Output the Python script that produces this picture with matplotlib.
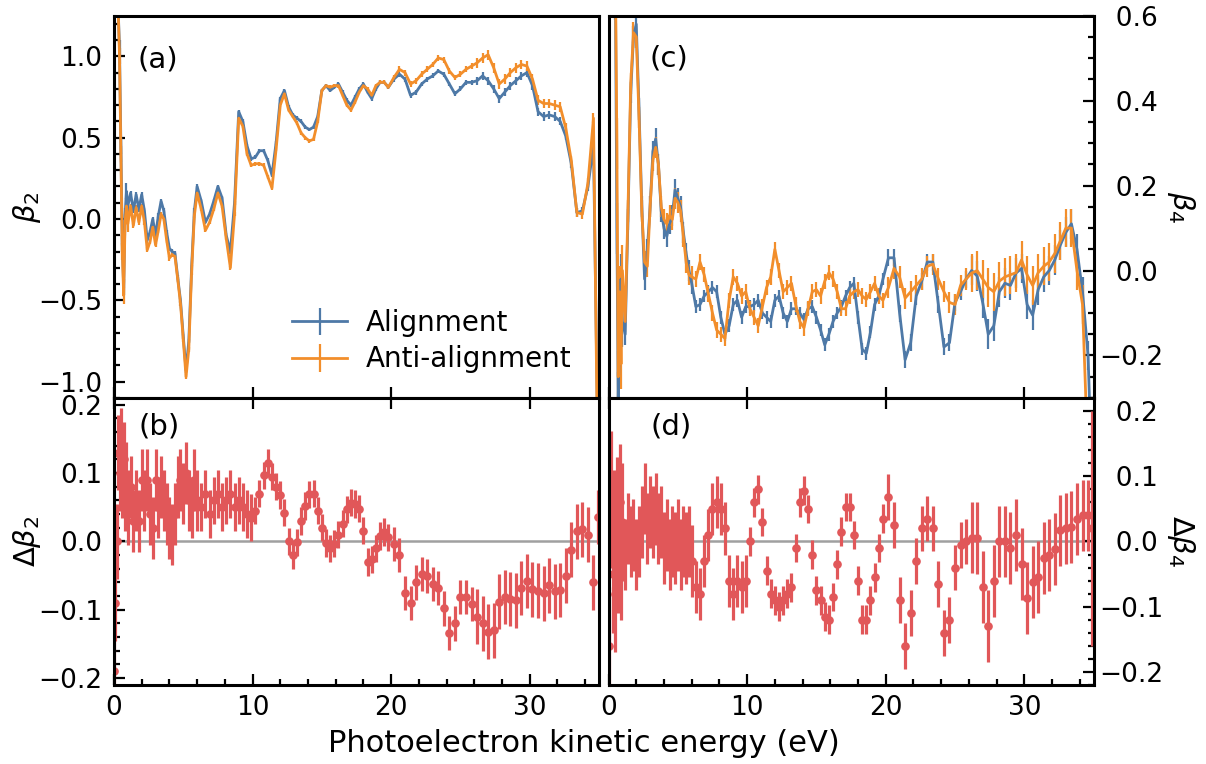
import matplotlib
matplotlib.use("Agg")
import matplotlib.pyplot as plt
from matplotlib.ticker import MultipleLocator, FuncFormatter

# Photoelectron kinetic energy grid (eV), shared by all four panels
energy = [0.0, 0.1, 0.2, 0.3, 0.4, 0.5, 0.6, 0.7, 0.8, 0.9, 1.0,
          1.2, 1.4, 1.6, 1.8, 2.0, 2.2, 2.4, 2.6, 2.8, 3.0,
          3.2, 3.4, 3.6, 3.8, 4.0, 4.2, 4.4, 4.6, 4.8, 5.0,
          5.2, 5.4, 5.6, 5.8, 6.0,
          6.3, 6.6, 6.9, 7.2, 7.5, 7.8, 8.1, 8.4, 8.7, 9.0,
          9.3, 9.6, 9.9, 10.2, 10.5, 10.8, 11.1, 11.4, 11.7, 12.0,
          12.3, 12.6, 12.9, 13.2, 13.5, 13.8, 14.1, 14.4, 14.7, 15.0,
          15.3, 15.6, 15.9, 16.2, 16.5, 16.8, 17.1, 17.4, 17.7, 18.0,
          18.3, 18.6, 18.9, 19.2, 19.5, 19.8,
          20.2, 20.6, 21.0, 21.4, 21.8, 22.2, 22.6, 23.0, 23.4, 23.8,
          24.2, 24.6, 25.0, 25.4, 25.8, 26.2, 26.6, 27.0, 27.4, 27.8,
          28.2, 28.6, 29.0, 29.4, 29.8, 30.2, 30.6, 31.0, 31.4, 31.8,
          32.2, 32.6, 33.0, 33.4, 33.8, 34.2, 34.6, 34.9]

# (a) beta_2
beta2_align = [1.6, 1.5, 1.4, 1.3, 1.05, 0.45, -0.15, -0.42, 0.02, 0.17, 0.08,
               0.16, 0.05, 0.15, 0.06, 0.15, 0.05, -0.13, -0.08, 0.0, -0.10,
               0.02, 0.11, 0.05, -0.08, -0.18, -0.20, -0.21, -0.36, -0.50, -0.72,
               -0.93, -0.75, -0.30, 0.05, 0.20,
               0.11, -0.02, 0.03, 0.11, 0.20, 0.13, -0.10, -0.20, 0.10, 0.66,
               0.60, 0.45, 0.37, 0.38, 0.42, 0.42, 0.36, 0.27, 0.47, 0.74,
               0.79, 0.69, 0.64, 0.62, 0.60, 0.565, 0.55, 0.565, 0.63, 0.79,
               0.82, 0.79, 0.81, 0.83, 0.78, 0.73, 0.70, 0.75, 0.80, 0.83,
               0.78, 0.74, 0.80, 0.84, 0.84, 0.81,
               0.86, 0.89, 0.86, 0.76, 0.78, 0.83, 0.86, 0.88, 0.91, 0.89,
               0.83, 0.77, 0.80, 0.84, 0.84, 0.85, 0.88, 0.85, 0.80, 0.74,
               0.78, 0.82, 0.85, 0.88, 0.90, 0.82, 0.66, 0.63, 0.64, 0.63,
               0.60, 0.51, 0.34, 0.04, 0.05, 0.20, 0.45, -1.3]
beta2_anti = [1.6, 1.5, 1.4, 1.3, 1.0, 0.4, -0.2, -0.47, -0.02, 0.08, -0.03,
              0.08, -0.04, 0.07, -0.02, 0.08, -0.02, -0.19, -0.14, -0.05, -0.16,
              -0.07, 0.03, 0.0, -0.13, -0.24, -0.22, -0.23, -0.37, -0.52, -0.74,
              -0.97, -0.80, -0.33, 0.02, 0.16,
              0.06, -0.07, -0.02, 0.06, 0.16, 0.08, -0.12, -0.30, 0.03, 0.62,
              0.57, 0.40, 0.33, 0.34, 0.34, 0.33, 0.26, 0.19, 0.43, 0.70,
              0.77, 0.67, 0.63, 0.59, 0.53, 0.50, 0.48, 0.49, 0.60, 0.79,
              0.82, 0.81, 0.82, 0.82, 0.76, 0.70, 0.67, 0.72, 0.78, 0.82,
              0.80, 0.76, 0.82, 0.84, 0.84, 0.81,
              0.87, 0.92, 0.90, 0.83, 0.85, 0.89, 0.92, 0.95, 0.99, 0.98,
              0.91, 0.87, 0.89, 0.92, 0.94, 0.96, 0.99, 1.01, 0.93, 0.83,
              0.86, 0.90, 0.93, 0.95, 0.94, 0.86, 0.73, 0.71, 0.71, 0.70,
              0.69, 0.56, 0.36, 0.04, 0.03, 0.22, 0.62, -1.5]
err2_align = [0.05] * 11 + [0.015] * 25 + [0.012] * 46 + [0.015] * 15 + [0.025] * 23
err2_anti = [0.05] * 11 + [0.015] * 25 + [0.012] * 46 + [0.018] * 15 + [0.03] * 23

# (c) beta_4
beta4_align = [0.9, 0.85, 0.8, 0.75, 0.72, 0.65, 0.1, -0.3, -0.12, -0.02, -0.12,
               -0.15, 0.12, 0.42, 0.55, 0.58, 0.38, 0.15, -0.02, 0.05, 0.15,
               0.28, 0.31, 0.25, 0.14, 0.10, 0.08, 0.11, 0.13, 0.19, 0.17,
               0.15, 0.09, 0.04, 0.0, -0.03,
               -0.085, -0.08, -0.06, -0.05, -0.04, -0.05, -0.11, -0.15, -0.13, -0.08,
               -0.07, -0.11, -0.085, -0.085, -0.08, -0.07, -0.10, -0.11, -0.12, -0.07,
               -0.06, -0.10, -0.12, -0.09, -0.09, -0.10, -0.115, -0.09, -0.085, -0.11,
               -0.14, -0.175, -0.15, -0.12, -0.10, -0.085, -0.06, -0.04, -0.03, -0.11,
               -0.185, -0.195, -0.145, -0.08, -0.06, -0.02,
               0.03, 0.03, -0.10, -0.21, -0.17, -0.06, -0.025, 0.02, 0.02, -0.08,
               -0.18, -0.17, -0.075, -0.05, -0.02, 0.0, -0.013, -0.076, -0.15, -0.13,
               -0.05, -0.03, -0.035, -0.006, 0.005, -0.08, -0.105, -0.045, -0.015, 0.0,
               0.025, 0.06, 0.09, 0.11, 0.05, -0.05, -0.2, -0.5]
beta4_anti = [0.9, 0.85, 0.8, 0.75, 0.72, 0.68, 0.3, -0.25, -0.05, -0.22, 0.0,
              -0.12, 0.14, 0.44, 0.56, 0.55, 0.36, 0.14, 0.02, 0.01, 0.15,
              0.26, 0.29, 0.25, 0.15, 0.12, 0.11, 0.13, 0.12, 0.17, 0.16,
              0.14, 0.08, 0.02, -0.01, -0.015,
              -0.02, 0.02, -0.01, -0.055, -0.10, -0.14, -0.15, -0.16, -0.07, -0.015,
              -0.03, -0.06, -0.05, -0.09, -0.11, -0.13, -0.085, -0.04, -0.015, 0.05,
              0.0, -0.05, -0.04, -0.03, -0.08, -0.12, -0.135, -0.09, -0.05, -0.045,
              -0.06, -0.025, -0.005, -0.02, -0.05, -0.09, -0.09, -0.06, -0.05, -0.045,
              -0.06, -0.068, -0.05, -0.03, -0.06, -0.07,
              -0.04, 0.005, -0.015, -0.065, -0.05, -0.035, -0.02, 0.01, 0.015, -0.02,
              -0.05, -0.075, -0.08, -0.035, -0.02, -0.006, 0.0, -0.02, -0.04, -0.05,
              -0.025, -0.015, -0.01, -0.005, 0.025, -0.01, -0.035, -0.005, 0.01, 0.02,
              0.04, 0.07, 0.10, 0.10, 0.0, -0.08, -0.45, -0.9]
err4_align = [0.06] * 11 + [0.025] * 25 + [0.015] * 46 + [0.02] * 15 + [0.035] * 23
err4_anti = [0.06] * 11 + [0.025] * 25 + [0.018] * 46 + [0.025] * 15 + [0.045] * 23

# (b) and (d) differences, anti-alignment minus alignment
dbeta2 = [-0.19, -0.09, 0.0, 0.13, 0.10, 0.14, 0.09, 0.12, 0.07, 0.09, 0.05,
          0.08, 0.03, 0.06, 0.03, 0.09, 0.06, 0.09, 0.04, 0.02, 0.09,
          0.05, 0.08, 0.06, 0.04, 0.02, 0.01, 0.04, 0.08, 0.09, 0.07,
          0.10, 0.06, 0.05, 0.09, 0.06,
          0.05, 0.07, 0.04, 0.06, 0.07, 0.05, 0.06, 0.07, 0.05, 0.06,
          0.05, 0.04, 0.035, 0.045, 0.07, 0.097, 0.115, 0.095, 0.08, 0.068,
          0.042, 0.0, -0.02, -0.001, 0.03, 0.052, 0.069, 0.07, 0.045, 0.02,
          -0.002, -0.01, -0.003, 0.01, 0.026, 0.047, 0.057, 0.055, 0.048, 0.016,
          -0.03, -0.026, -0.01, 0.008, 0.014, 0.006,
          -0.004, -0.02, -0.075, -0.09, -0.06, -0.047, -0.05, -0.062, -0.068, -0.098,
          -0.134, -0.12, -0.081, -0.081, -0.092, -0.11, -0.12, -0.132, -0.13, -0.088,
          -0.081, -0.084, -0.086, -0.068, -0.058, -0.07, -0.072, -0.076, -0.064, -0.073,
          -0.071, -0.05, -0.012, 0.015, 0.018, 0.01, -0.06, 0.036]
dbeta4 = [-0.16, 0.05, 0.08, -0.05, 0.02, -0.08, 0.04, -0.02, 0.06, -0.03, 0.03,
          -0.02, 0.02, 0.0, 0.01, -0.02, 0.0, 0.03, 0.066, 0.02, 0.045,
          0.03, 0.05, 0.02, 0.03, -0.01, 0.01, -0.02, 0.0, -0.01, 0.01,
          -0.02, 0.0, -0.01, 0.0, -0.03,
          -0.07, -0.08, -0.03, 0.01, 0.05, 0.06, 0.05, 0.02, -0.06, -0.08,
          -0.06, -0.07, -0.06, 0.0, 0.06, 0.08, 0.03, -0.045, -0.08, -0.09,
          -0.10, -0.09, -0.08, -0.07, -0.01, 0.06, 0.078, 0.05, -0.02, -0.075,
          -0.09, -0.115, -0.12, -0.085, -0.035, 0.015, 0.053, 0.053, 0.01, -0.06,
          -0.12, -0.12, -0.09, -0.055, -0.01, 0.035,
          0.068, 0.025, -0.09, -0.16, -0.11, -0.03, 0.02, 0.035, 0.02, -0.065,
          -0.14, -0.12, -0.04, -0.005, 0.0, 0.006, 0.005, -0.07, -0.13, -0.06,
          0.0, 0.0, -0.01, 0.01, -0.035, -0.087, -0.062, -0.055, -0.025, -0.021,
          -0.012, 0.017, 0.02, 0.022, 0.035, 0.04, 0.04, 0.02]
err_d2 = [0.055] * 11 + [0.045] * 25 + [0.035] * 13 + [0.02] * 33 + [0.025] * 15 + [0.04] * 23
err_d4 = [0.09] * 11 + [0.055] * 25 + [0.04] * 13 + [0.022] * 33 + [0.035] * 15 + [0.055] * 22 + [0.18]

blue = "#4e79a7"
orange = "#f28e2b"
red = "#e15759"


def right_label(v, pos):
    # figure space in front of positive numbers so they line up with the minus sign
    s = "{0:.1f}".format(v)
    if s.startswith("-") and s != "-0.0":
        return "\u2212" + s[1:]
    return "\u2007" + s.lstrip("-")


def style_axis(ax, side, top_row):
    for sp in ax.spines.values():
        sp.set_linewidth(2.2)
    ax.tick_params(which="both", direction="in", labelsize=19, width=1.6)
    ax.tick_params(which="major", length=8)
    ax.tick_params(which="minor", length=4.5)
    ax.tick_params(axis="y", which="both", left=(side == "left"), right=(side == "right"),
                   labelleft=(side == "left"), labelright=(side == "right"),
                   pad=(8.5 if side == "left" else 4))
    ax.tick_params(axis="x", which="both", top=False, bottom=True,
                   labelbottom=not top_row, pad=7)
    if top_row:
        ax.tick_params(axis="x", which="minor", bottom=False)
    else:
        ax.tick_params(axis="x", which="major", top=True)
    ax.xaxis.set_major_locator(MultipleLocator(10))
    ax.xaxis.set_minor_locator(MultipleLocator(2))
    ax.set_xlim(0, 35)


fig = plt.figure(figsize=(12.06, 7.64), dpi=100)
ax_a = fig.add_axes([0.0945, 0.4791, 0.4022, 0.5004])
ax_b = fig.add_axes([0.0945, 0.1034, 0.4022, 0.3757])
ax_c = fig.add_axes([0.5046, 0.4791, 0.4022, 0.5004])
ax_d = fig.add_axes([0.5046, 0.1034, 0.4022, 0.3757])

# Plot data
# =========
ax_a.errorbar(energy, beta2_align, yerr=err2_align, color=blue, lw=2.0,
              elinewidth=1.6, capsize=0, label="Alignment")
ax_a.errorbar(energy, beta2_anti, yerr=err2_anti, color=orange, lw=2.0,
              elinewidth=1.6, capsize=0, label="Anti-alignment")
ax_c.errorbar(energy, beta4_align, yerr=err4_align, color=blue, lw=2.0,
              elinewidth=1.6, capsize=0)
ax_c.errorbar(energy, beta4_anti, yerr=err4_anti, color=orange, lw=2.0,
              elinewidth=1.6, capsize=0)

for ax, d, e in [(ax_b, dbeta2, err_d2), (ax_d, dbeta4, err_d4)]:
    ax.axhline(0, color="#a0a0a0", lw=1.8, zorder=0)
    ax.errorbar(energy, d, yerr=e, fmt="o", color=red, ms=5.2,
                elinewidth=2.3, capsize=0)

style_axis(ax_a, "left", True)
style_axis(ax_b, "left", False)
style_axis(ax_c, "right", True)
style_axis(ax_d, "right", False)

ax_a.set_ylim(-1.1, 1.25)
ax_a.yaxis.set_major_locator(MultipleLocator(0.5))
ax_a.yaxis.set_minor_locator(MultipleLocator(0.1))
ax_b.set_ylim(-0.21, 0.21)
ax_b.yaxis.set_major_locator(MultipleLocator(0.1))
ax_b.yaxis.set_minor_locator(MultipleLocator(0.02))
ax_c.set_ylim(-0.3, 0.6)
ax_c.yaxis.set_major_locator(MultipleLocator(0.2))
ax_c.yaxis.set_minor_locator(MultipleLocator(0.05))
ax_d.set_ylim(-0.22, 0.22)
ax_d.yaxis.set_major_locator(MultipleLocator(0.1))
ax_d.yaxis.set_minor_locator(MultipleLocator(0.02))
for ax in (ax_c, ax_d):
    ax.yaxis.set_major_formatter(FuncFormatter(right_label))

# Labels
ax_a.set_ylabel(r"$\beta_2$", fontsize=21)
ax_a.yaxis.set_label_coords(-0.146, 0.5)
ax_b.set_ylabel(r"$\Delta\beta_2$", fontsize=21)
ax_b.yaxis.set_label_coords(-0.146, 0.5)
for ax, lab in [(ax_c, r"$\beta_4$"), (ax_d, r"$\Delta\beta_4$")]:
    ax.yaxis.set_label_position("right")
    ax.set_ylabel(lab, fontsize=21, rotation=270, va="bottom")
    ax.yaxis.set_label_coords(1.147, 0.5)

ax_a.text(0.049, 0.8645, "(a)", transform=ax_a.transAxes, fontsize=21, va="baseline")
ax_b.text(0.051, 0.871, "(b)", transform=ax_b.transAxes, fontsize=21, va="baseline")
ax_c.text(0.0835, 0.866, "(c)", transform=ax_c.transAxes, fontsize=21, va="baseline")
ax_d.text(0.0856, 0.871, "(d)", transform=ax_d.transAxes, fontsize=21, va="baseline")

ax_a.legend(loc="lower left", bbox_to_anchor=(0.344, 0.035), borderaxespad=0,
            frameon=False, fontsize=20, handlelength=2.0, handletextpad=0.65,
            labelspacing=0.3)

fig.text(0.4838, 0.0157, "Photoelectron kinetic energy (eV)", ha="center",
         va="baseline", fontsize=22)

fig.savefig("out.png", dpi=100)
